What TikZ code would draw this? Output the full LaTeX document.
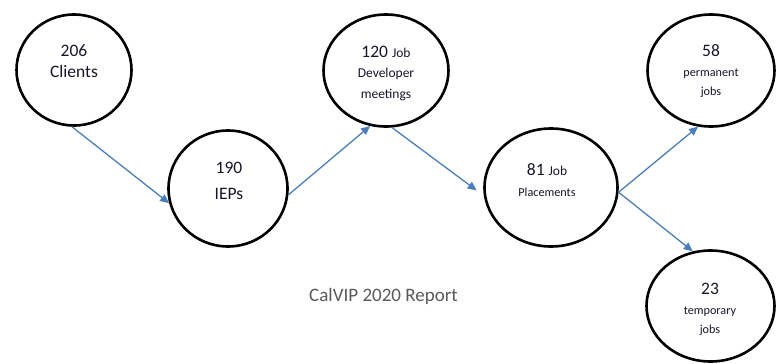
\documentclass[tikz,border=0pt]{standalone}
\usepackage{fontspec}
\setmainfont{Carlito}
\usetikzlibrary{shapes.geometric,arrows.meta}
\definecolor{arrowblue}{HTML}{4A7EBB}
\definecolor{txt}{HTML}{16162A}
\definecolor{captiongray}{HTML}{595959}
\tikzset{
  bubble/.style={draw=black, line width=2.6pt, ellipse, inner sep=0pt},
  flow/.style={draw=arrowblue, line width=1.3pt, -{Triangle[length=9pt,width=8pt]}},
  big/.style={anchor=base, inner sep=0pt, text=txt, font=\fontsize{17.5}{20}\selectfont},
  mid/.style={anchor=base, inner sep=0pt, text=txt, font=\fontsize{13.5}{16}\selectfont},
  small/.style={anchor=base, inner sep=0pt, text=txt, font=\fontsize{12.2}{14}\selectfont},
}
\newcommand{\jobsm}{{\fontsize{13.5}{16}\selectfont Job}}
\begin{document}
\begin{tikzpicture}[x=1pt,y=-1pt]
\useasboundingbox (0,0) rectangle (777,364);
% bubbles
\node[bubble, minimum width=115pt, minimum height=111pt] (e1) at (74,70) {};
\node[bubble, minimum width=119pt, minimum height=116pt] (e2) at (228,188.5) {};
\node[bubble, minimum width=125pt, minimum height=112pt] (e3) at (386,70.5) {};
\node[bubble, minimum width=133pt, minimum height=118pt] (e4) at (551,187.5) {};
\node[bubble, minimum width=127pt, minimum height=112pt] (e5) at (711,70.5) {};
\node[bubble, minimum width=128pt, minimum height=111pt] (e6) at (710.5,306) {};
% texts
\node[big] (t1a) at (74,56) {206};
\node[big] (t1b) at (74,77.5) {Clients};
\node[big] (t2a) at (229,173.3) {190};
\node[big] (t2b) at (229,199) {IEPs};
\node[big] (t3a) at (386,57.5) {120 \jobsm};
\node[mid] (t3b) at (386,77.5) {Developer};
\node[mid] (t3c) at (386,98) {meetings};
\node[big] (t4a) at (547,175) {81 \jobsm};
\node[small] (t4b) at (547,196.7) {Placements};
\node[big] (t5a) at (711,56.5) {58};
\node[small] (t5b) at (711,76.7) {permanent};
\node[small] (t5c) at (711,95) {jobs};
\node[big] (t6a) at (710,294) {23};
\node[small] (t6b) at (710,314.7) {temporary};
\node[small] (t6c) at (710,333) {jobs};
\node[anchor=base, inner sep=0pt, text=captiongray, font=\fontsize{19}{22}\selectfont] (cap) at (383.5,301.5) {CalVIP 2020 Report};
% connectors
\draw[flow] (e1.-92) -- (e2.-166);
\draw[flow] (e2.-6) -- (e3.-106);
\draw[flow, shorten >=9pt] (e3.-84) -- (e4.187);
\draw[flow] (e4.-4) -- (e5.-103);
\draw[flow] (e4.-4) -- (e6.108.6);
\end{tikzpicture}
\end{document}
